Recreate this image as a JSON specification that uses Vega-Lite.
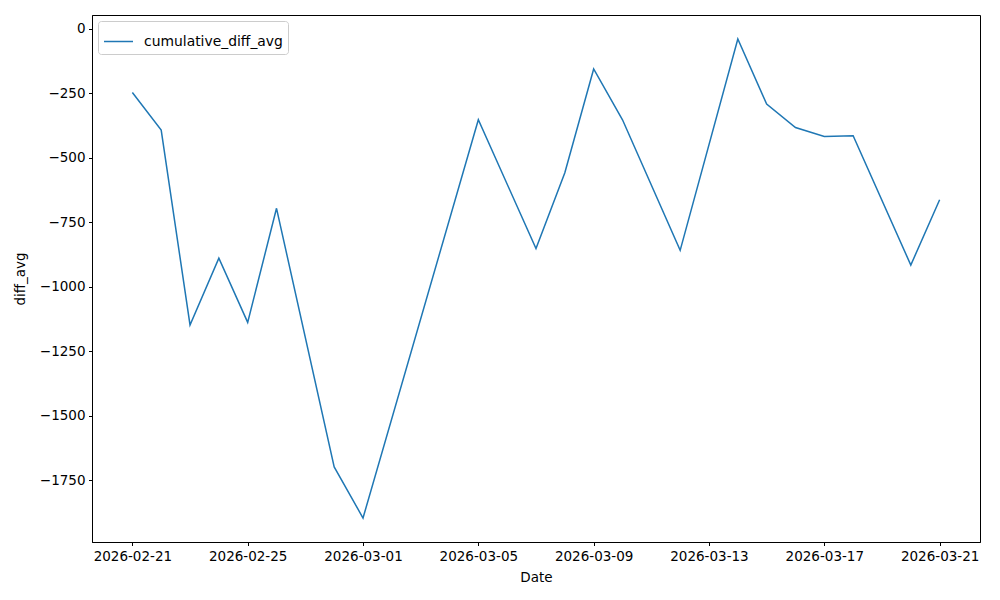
{
  "$schema": "https://vega.github.io/schema/vega-lite/v6.json",
  "width": 888,
  "height": 527,
  "autosize": "none",
  "padding": {"left": 92, "top": 15, "right": 20, "bottom": 58},
  "background": "white",
  "config": {
    "view": {"stroke": "black", "strokeWidth": 1},
    "axis": {
      "grid": false,
      "domainColor": "black",
      "tickColor": "black",
      "tickSize": 3.5,
      "labelColor": "black",
      "titleColor": "black",
      "labelFont": "DejaVu Sans",
      "titleFont": "DejaVu Sans",
      "labelFontSize": 13.5,
      "titleFontSize": 13.5,
      "titleFontWeight": "normal",
      "labelPadding": 3.5
    },
    "legend": {
      "labelFont": "DejaVu Sans",
      "labelFontSize": 13.9,
      "labelColor": "black"
    }
  },
  "data": {
    "values": [
      {"Date": "2026-02-21", "diff_avg": -247},
      {"Date": "2026-02-22", "diff_avg": -393},
      {"Date": "2026-02-23", "diff_avg": -1148},
      {"Date": "2026-02-24", "diff_avg": -889},
      {"Date": "2026-02-25", "diff_avg": -1138},
      {"Date": "2026-02-26", "diff_avg": -696},
      {"Date": "2026-02-28", "diff_avg": -1698},
      {"Date": "2026-03-01", "diff_avg": -1896},
      {"Date": "2026-03-05", "diff_avg": -353},
      {"Date": "2026-03-07", "diff_avg": -852},
      {"Date": "2026-03-08", "diff_avg": -558},
      {"Date": "2026-03-09", "diff_avg": -156},
      {"Date": "2026-03-10", "diff_avg": -353},
      {"Date": "2026-03-12", "diff_avg": -859},
      {"Date": "2026-03-14", "diff_avg": -40},
      {"Date": "2026-03-15", "diff_avg": -292},
      {"Date": "2026-03-16", "diff_avg": -383},
      {"Date": "2026-03-17", "diff_avg": -418},
      {"Date": "2026-03-18", "diff_avg": -415},
      {"Date": "2026-03-20", "diff_avg": -916},
      {"Date": "2026-03-21", "diff_avg": -663}
    ]
  },
  "mark": {"type": "line", "strokeWidth": 1.5, "clip": true},
  "encoding": {
    "x": {
      "field": "Date",
      "type": "temporal",
      "title": "Date",
      "scale": {
        "type": "utc",
        "domain": [
          {"year": 2026, "month": 2, "date": 19, "hours": 14, "minutes": 24, "utc": true},
          {"year": 2026, "month": 3, "date": 22, "hours": 9, "minutes": 36, "utc": true}
        ]
      },
      "axis": {
        "values": [
          {"year": 2026, "month": 2, "date": 21, "utc": true},
          {"year": 2026, "month": 2, "date": 25, "utc": true},
          {"year": 2026, "month": 3, "date": 1, "utc": true},
          {"year": 2026, "month": 3, "date": 5, "utc": true},
          {"year": 2026, "month": 3, "date": 9, "utc": true},
          {"year": 2026, "month": 3, "date": 13, "utc": true},
          {"year": 2026, "month": 3, "date": 17, "utc": true},
          {"year": 2026, "month": 3, "date": 21, "utc": true}
        ],
        "labelExpr": "utcFormat(datum.value, '%Y-%m-%d')",
        "labelAngle": 0,
        "titlePadding": 8,
        "labelFlush": false,
        "labelOverlap": false
      }
    },
    "y": {
      "field": "diff_avg",
      "type": "quantitative",
      "title": "diff_avg",
      "scale": {"domain": [-1989, 53], "nice": false, "zero": false},
      "axis": {
        "values": [0, -250, -500, -750, -1000, -1250, -1500, -1750],
        "format": "d",
        "titlePadding": 12,
        "labelFlush": false,
        "labelOverlap": false
      }
    },
    "color": {
      "datum": "cumulative_diff_avg",
      "type": "nominal",
      "scale": {"range": ["#1f77b4"]},
      "legend": {
        "title": null,
        "orient": "top-left",
        "offset": 6,
        "symbolType": "stroke",
        "symbolSize": 841,
        "symbolStrokeWidth": 1.5,
        "strokeColor": "#cccccc",
        "fillColor": "white",
        "cornerRadius": 3,
        "padding": 5,
        "labelOffset": 10
      }
    }
  }
}
